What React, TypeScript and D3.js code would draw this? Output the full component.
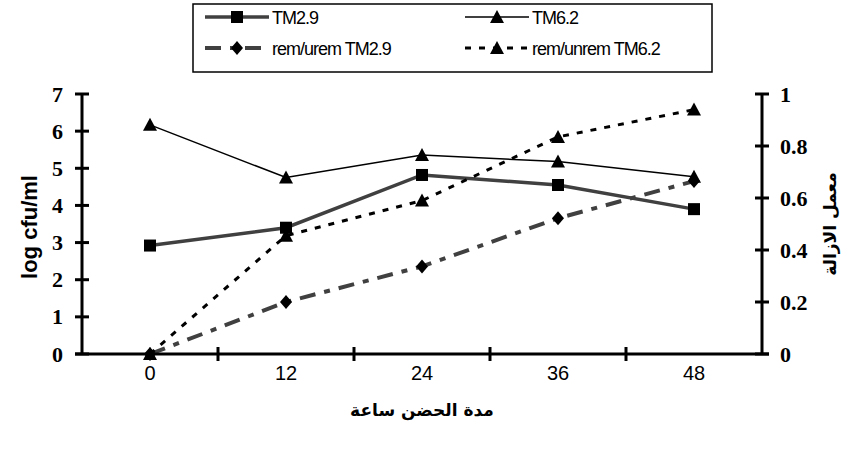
import React from "react";
import * as d3 from "d3";

const categories = ["0", "12", "24", "36", "48"];
const tm29 = [2.92, 3.4, 4.82, 4.55, 3.9];
const tm62 = [6.17, 4.75, 5.36, 5.18, 4.77];
const remTm29 = [0, 0.2, 0.337, 0.522, 0.665];
const remTm62 = [0, 0.455, 0.59, 0.835, 0.94];
const leftTicks = [0, 1, 2, 3, 4, 5, 6, 7];
const rightTicks = [0, 0.2, 0.4, 0.6, 0.8, 1];

const W = 850, H = 453;
const x0 = 82, x1 = 762, yTop = 94, yBot = 354;
const SANS = "'Liberation Sans', Arial, sans-serif";
const SERIF = "'Liberation Serif', 'Times New Roman', serif";
const AR = "'DejaVu Sans', 'Noto Sans', sans-serif";

function Marker({ type, x, y }: { type: string; x: number; y: number }) {
  if (type === "square") return <rect x={x - 6} y={y - 6} width={12} height={12} fill="#000" />;
  if (type === "triangle") return <path d={`M${x},${y - 7}L${x + 7},${y + 6}L${x - 7},${y + 6}Z`} fill="#000" />;
  return <path d={`M${x},${y - 7}L${x + 6},${y}L${x},${y + 7}L${x - 6},${y}Z`} fill="#000" />;
}

export default function App() {
  const xs = d3.scaleBand().domain(categories).range([x0, x1]);
  const cx = (c: string) => (xs(c) as number) + xs.bandwidth() / 2;
  const yl = d3.scaleLinear().domain([0, 7]).range([yBot, yTop]);
  const yr = d3.scaleLinear().domain([0, 1]).range([yBot, yTop]);

  const series = [
    { name: "TM2.9", data: tm29, scale: yl, stroke: "#404040", width: 3.5, dash: "", marker: "square" },
    { name: "TM6.2", data: tm62, scale: yl, stroke: "#000", width: 1.5, dash: "", marker: "triangle" },
    { name: "rem/urem TM2.9", data: remTm29, scale: yr, stroke: "#404040", width: 4, dash: "16 9 6 9", marker: "diamond" },
    { name: "rem/unrem TM6.2", data: remTm62, scale: yr, stroke: "#000", width: 3, dash: "6 8", marker: "triangle" },
  ];

  const line = (data: number[], s: d3.ScaleLinear<number, number>) =>
    d3.line<number>().x((_, i) => cx(categories[i])).y((v) => s(v))(data) as string;

  const legendPos = [
    { x: 205, y: 17 },
    { x: 465, y: 17 },
    { x: 205, y: 48 },
    { x: 465, y: 48 },
  ];

  const boundaries = categories.map((c) => xs(c) as number).concat([x1]);

  return (
    <svg width={W} height={H} style={{ position: "absolute", left: 0, top: 0, background: "#fff" }}>
      {/* legend */}
      <rect x={193} y={4} width={519} height={68} fill="#fff" stroke="#000" strokeWidth={1.5} />
      {series.map((s, i) => {
        const p = legendPos[i];
        return (
          <g key={s.name}>
            <line x1={p.x} x2={p.x + 64} y1={p.y} y2={p.y} stroke={s.stroke} strokeWidth={s.width} strokeDasharray={s.dash} />
            <Marker type={s.marker} x={p.x + 32} y={p.y} />
            <text x={p.x + 67} y={p.y + 6.5} style={{ fontFamily: SANS, fontSize: 18, letterSpacing: -1 }} fill="#000">
              {s.name}
            </text>
          </g>
        );
      })}

      {/* series */}
      {series.map((s) => (
        <g key={s.name}>
          <path d={line(s.data, s.scale)} fill="none" stroke={s.stroke} strokeWidth={s.width} strokeDasharray={s.dash} />
          {s.data.map((v, i) => (
            <Marker key={i} type={s.marker} x={cx(categories[i])} y={s.scale(v)} />
          ))}
        </g>
      ))}

      {/* axes */}
      <line x1={x0} x2={x0} y1={yTop} y2={yBot} stroke="#000" strokeWidth={3} />
      <line x1={x1} x2={x1} y1={yTop} y2={yBot} stroke="#000" strokeWidth={3} />
      <line x1={x0 - 7} x2={x1 + 7} y1={yBot} y2={yBot} stroke="#000" strokeWidth={3} />
      {leftTicks.map((t) => (
        <g key={t}>
          <line x1={x0 - 7} x2={x0 + 7} y1={yl(t)} y2={yl(t)} stroke="#000" strokeWidth={3} />
          <text x={63} y={yl(t) + 7.5} textAnchor="end" style={{ fontFamily: SERIF, fontWeight: "bold", fontSize: 22 }}>
            {t}
          </text>
        </g>
      ))}
      {rightTicks.map((t) => (
        <g key={t}>
          <line x1={x1 - 7} x2={x1 + 7} y1={yr(t)} y2={yr(t)} stroke="#000" strokeWidth={3} />
          <text x={780} y={yr(t) + 7.5} textAnchor="start" style={{ fontFamily: SERIF, fontWeight: "bold", fontSize: 22 }}>
            {t}
          </text>
        </g>
      ))}
      {boundaries.slice(1, -1).map((b, i) => (
        <line key={i} x1={b} x2={b} y1={yBot - 7} y2={yBot + 7} stroke="#000" strokeWidth={3} />
      ))}
      {categories.map((c) => (
        <text key={c} x={cx(c)} y={yBot + 26} textAnchor="middle" style={{ fontFamily: SANS, fontSize: 20 }}>
          {c}
        </text>
      ))}

      {/* titles */}
      <text transform={`translate(37,227) rotate(-90)`} textAnchor="middle" style={{ fontFamily: SANS, fontWeight: "bold", fontSize: 22 }}>
        log cfu/ml
      </text>
      <text transform={`translate(836,224) rotate(-90)`} textAnchor="middle" style={{ fontFamily: AR, fontWeight: "bold", fontSize: 17 }}>
        معمل الازالة
      </text>
      <text x={422} y={416} textAnchor="middle" style={{ fontFamily: AR, fontWeight: "bold", fontSize: 17 }}>
        مدة الحضن ساعة
      </text>
    </svg>
  );
}
